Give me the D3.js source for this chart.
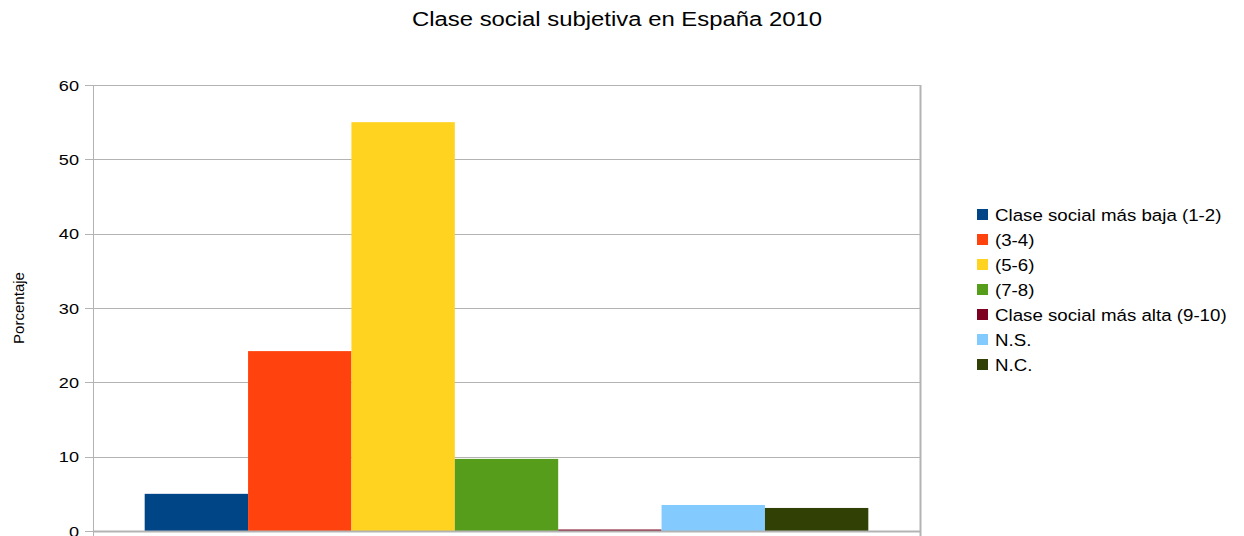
<!DOCTYPE html>
<html>
<head>
<meta charset="utf-8">
<script src="https://cdn.jsdelivr.net/npm/d3@7"></script>
<style>
    body { margin: 0; background: #fff; }
    svg { display: block; font-family: "Liberation Sans", Arial, sans-serif; }
</style>
</head>
<body>
<div id="chart"></div>
<script>
/* Clase social subjetiva - grouped column chart */

const series = ['Clase social más baja (1-2)', '(3-4)', '(5-6)', '(7-8)',
    'Clase social más alta (9-10)', 'N.S.', 'N.C.'];
const values = [5.0, 24.2, 55.0, 9.7, 0.2, 3.5, 3.1];
const colors = ['#004586', '#ff420e', '#ffd320', '#579d1c', '#7e0021', '#83caff', '#314004'];
const yTicks = [0, 10, 20, 30, 40, 50, 60];

const config = {
    width: 1244,
    height: 536,
    left: 93,
    right: 920,
    top: 85,
    bottom: 531,
    gridColor: '#b3b3b3',
    fontColor: '#000'
};

let svg = d3.select('#chart')
    .append('svg')
    .attr('width', config.width)
    .attr('height', config.height);

let y = d3.scaleLinear()
    .domain([0, 60])
    .range([config.bottom, config.top]);

// one category, bars for each series side by side
let x = d3.scaleBand()
    .domain(series)
    .range([config.left, config.right])
    .paddingInner(0)
    .paddingOuter(0.5);

// gridlines
svg.append('g')
    .selectAll('line')
    .data(yTicks)
    .enter().append('line')
    .attr('x1', config.left - 8)
    .attr('x2', config.right)
    .attr('y1', d => Math.round(y(d)) + 0.5)
    .attr('y2', d => Math.round(y(d)) + 0.5)
    .attr('stroke', config.gridColor)
    .attr('stroke-width', 1);

// bars
svg.append('g')
    .selectAll('rect')
    .data(values)
    .enter().append('rect')
    .attr('x', (d, i) => x(series[i]))
    .attr('width', x.bandwidth())
    .attr('y', d => y(d))
    .attr('height', d => y(0) - y(d))
    .attr('fill', (d, i) => colors[i]);

// axis lines
svg.append('line')
    .attr('x1', config.left + 0.5).attr('x2', config.left + 0.5)
    .attr('y1', config.top).attr('y2', config.height)
    .attr('stroke', config.gridColor);
svg.append('line')
    .attr('x1', config.right + 0.5).attr('x2', config.right + 0.5)
    .attr('y1', config.top).attr('y2', config.height)
    .attr('stroke', config.gridColor)
    .attr('stroke-width', 2);
svg.append('line')
    .attr('x1', config.left).attr('x2', config.right)
    .attr('y1', config.bottom + 0.5).attr('y2', config.bottom + 0.5)
    .attr('stroke', config.gridColor)
    .attr('stroke-width', 2);

// tick labels (text in the original is a bit stretched horizontally)
svg.append('g')
    .selectAll('text')
    .data(yTicks)
    .enter().append('text')
    .attr('transform', d => 'translate(79,' + y(d) + ') scale(1.17,1)')
    .attr('dy', '0.36em')
    .attr('text-anchor', 'end')
    .style('font-size', '15.5px')
    .style('fill', config.fontColor)
    .text(d => d);

// title
svg.append('text')
    .attr('x', 412)
    .attr('y', 26)
    .attr('textLength', 410)
    .attr('lengthAdjust', 'spacingAndGlyphs')
    .style('font-size', '20px')
    .text('Clase social subjetiva en España 2010');

// y axis title
svg.append('text')
    .attr('transform', 'translate(24,' + ((config.top + config.bottom) / 2) + ') rotate(-90)')
    .attr('text-anchor', 'middle')
    .attr('textLength', 72)
    .attr('lengthAdjust', 'spacingAndGlyphs')
    .style('font-size', '14px')
    .text('Porcentaje');

// legend
let lg = svg.append('g')
    .attr('transform', 'translate(977,214.5)');
let rows = lg.selectAll('g')
    .data(series)
    .enter().append('g')
    .attr('transform', (d, i) => 'translate(0,' + (i * 25) + ')');
rows.append('rect')
    .attr('x', 0)
    .attr('y', -5.5)
    .attr('width', 11)
    .attr('height', 11)
    .attr('fill', (d, i) => colors[i]);
rows.append('text')
    .attr('transform', 'translate(18,0) scale(1.1,1)')
    .attr('dy', '0.36em')
    .style('font-size', '17px')
    .text(d => d);
</script>
</body>
</html>
